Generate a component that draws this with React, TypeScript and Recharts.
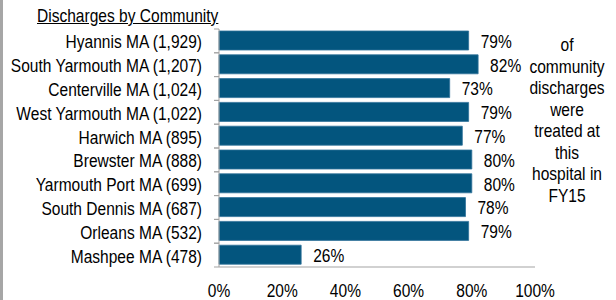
import { BarChart, Bar, XAxis, YAxis, LabelList } from "recharts";

const communities = [
  "Hyannis MA (1,929)",
  "South Yarmouth MA (1,207)",
  "Centerville MA (1,024)",
  "West Yarmouth MA (1,022)",
  "Harwich MA (895)",
  "Brewster MA (888)",
  "Yarmouth Port MA (699)",
  "South Dennis MA (687)",
  "Orleans MA (532)",
  "Mashpee MA (478)",
];
const sharePct = [79, 82, 73, 79, 77, 80, 80, 78, 79, 26];
const xTicks = [0, 20, 40, 60, 80, 100];
const noteLines = [
  "of",
  "community",
  "discharges",
  "were",
  "treated at",
  "this",
  "hospital in",
  "FY15",
];

const data = communities.map((name, i) => ({ name, pct: sharePct[i] }));

const FONT = "'Liberation Sans', Arial, sans-serif";
const FS = 18.5;
const SX = 0.84; // the source text is squeezed horizontally
const INK = "#000";
const W = 616;
const H = 300;
const TOP = 29;
const BOTTOM = 33;
const LEFT = 219;
const RIGHT = 81;
const HALF_BAND = (H - TOP - BOTTOM) / communities.length / 2;
const AXIS = "#a3a3a3";

function SqText({ x, y, anchor = "start", children }: any) {
  return (
    <text
      transform={`translate(${x},${y}) scale(${SX},1)`}
      x={0}
      y={0}
      textAnchor={anchor}
      fill={INK}
      fontSize={FS}
      fontFamily={FONT}
    >
      {children}
    </text>
  );
}

// category label at the band centre, tick marks on the band edges
function CommunityTick(props: any) {
  const { x, y, payload } = props;
  return (
    <g>
      <line x1={x - 5} x2={x} y1={y - HALF_BAND} y2={y - HALF_BAND} stroke={AXIS} />
      <line x1={x - 5} x2={x} y1={y + HALF_BAND} y2={y + HALF_BAND} stroke={AXIS} />
      <SqText x={x - 17} y={y + 7.5} anchor="end">
        {payload.value}
      </SqText>
    </g>
  );
}

function PctTick(props: any) {
  const { x, y, payload } = props;
  return (
    <SqText x={x} y={y + 29.5} anchor="middle">
      {`${payload.value}%`}
    </SqText>
  );
}

function BarValue(props: any) {
  const { x, y, width, height, value } = props;
  return (
    <SqText x={x + width + 12} y={y + height / 2 + 7.3}>
      {`${value}%`}
    </SqText>
  );
}

export default function App() {
  return (
    <div
      style={{
        position: "absolute",
        left: 0,
        top: 0,
        width: W,
        height: H,
        background: "#fff",
        fontFamily: FONT,
        overflow: "hidden",
        color: INK,
      }}
    >
      <div
        style={{
          position: "absolute",
          left: 0,
          top: 0,
          width: 3,
          height: H,
          background: "#a6a6a6",
        }}
      />
      <div
        style={{
          position: "absolute",
          left: 37,
          top: 7,
          fontSize: FS,
          textDecoration: "underline",
          lineHeight: "18px",
          whiteSpace: "nowrap",
          transform: `scaleX(${SX})`,
          transformOrigin: "left center",
        }}
      >
        Discharges by Community
      </div>
      <div
        style={{
          position: "absolute",
          left: 517,
          top: 34,
          width: 100,
          textAlign: "center",
          fontSize: FS,
          lineHeight: "21.5px",
          transform: `scaleX(${SX})`,
          transformOrigin: "center center",
        }}
      >
        {noteLines.map((l) => (
          <div key={l}>{l}</div>
        ))}
      </div>
      <BarChart
        width={W}
        height={H}
        data={data}
        layout="vertical"
        margin={{ top: TOP, right: RIGHT, bottom: 0, left: 0 }}
        style={{ position: "absolute", left: 0, top: 0 }}
      >
        <XAxis
          type="number"
          domain={[0, 100]}
          ticks={xTicks}
          height={BOTTOM}
          tickLine={false}
          tickSize={0}
          tickMargin={0}
          stroke={AXIS}
          tick={<PctTick />}
        />
        <YAxis
          type="category"
          dataKey="name"
          width={LEFT}
          tickLine={false}
          tickSize={0}
          tickMargin={0}
          stroke={AXIS}
          interval={0}
          tick={<CommunityTick />}
        />
        <Bar
          dataKey="pct"
          fill="#03557e"
          stroke="#2f7199"
          strokeWidth={0.8}
          barSize={19}
          isAnimationActive={false}
        >
          <LabelList dataKey="pct" content={<BarValue />} />
        </Bar>
      </BarChart>
    </div>
  );
}
